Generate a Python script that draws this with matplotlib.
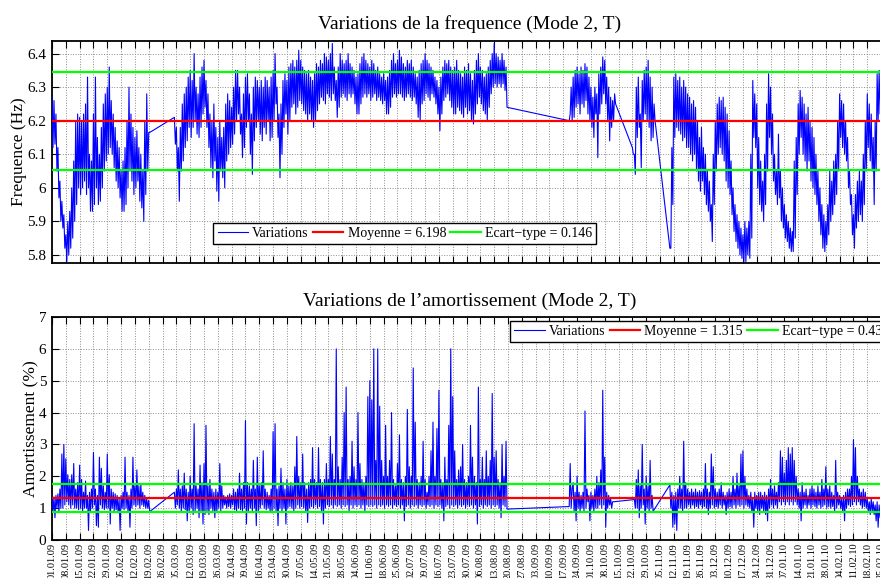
import datetime as dt
import numpy as np
import matplotlib.pyplot as plt
from matplotlib.ticker import FormatStrFormatter

plt.rcParams['font.family'] = ['Liberation Serif', 'DejaVu Serif']

# Each block holds two readings per day (daily high, then daily low),
# days counted from 01.01.2009.  Blocks are separated by recording gaps.

# --- mode 2 frequency (Hz) ---
freq_starts = [0, 62, 262, 294, 313]
freq_a = [6.27, 6.12, 6.26, 6.13, 6.22, 6.05, 6.12, 5.97, 6.02, 5.90,
          5.96, 5.88, 5.92, 5.82, 5.86, 5.78, 5.90, 5.80, 5.93, 5.82,
          6.00, 5.85, 6.08, 5.90, 6.20, 5.95, 6.22, 6.00, 6.21, 5.98,
          6.20, 6.00, 6.22, 6.02, 6.25, 5.98, 6.33, 6.00, 6.10, 5.93,
          6.08, 5.93, 6.22, 5.95, 6.33, 6.00, 6.15, 5.95, 6.10, 5.96,
          6.18, 6.00, 6.25, 6.05, 6.28, 6.08, 6.30, 6.10, 6.36, 6.12,
          6.26, 6.10, 6.22, 6.06, 6.18, 6.02, 6.14, 6.00, 6.12, 5.97,
          6.05, 5.93, 6.08, 5.93, 6.12, 5.95, 6.20, 6.00, 6.30, 6.05,
          6.22, 6.02, 6.18, 5.98, 6.15, 6.00, 6.17, 6.02, 6.12, 5.96,
          6.10, 5.94, 6.05, 5.90, 6.20, 5.98, 6.28, 6.05, 6.165, 6.165]
freq_b = [6.21, 6.13, 6.18, 6.05, 6.12, 5.96, 6.18, 6.05, 6.25, 6.08,
          6.28, 6.12, 6.30, 6.14, 6.33, 6.18, 6.35, 6.15, 6.32, 6.18,
          6.40, 6.20, 6.30, 6.16, 6.28, 6.15, 6.33, 6.18, 6.36, 6.22,
          6.38, 6.24, 6.32, 6.18, 6.28, 6.12, 6.22, 6.06, 6.20, 6.03,
          6.25, 6.08, 6.18, 5.99, 6.15, 5.96, 6.20, 6.05, 6.15, 6.03,
          6.18, 6.00, 6.25, 6.08, 6.28, 6.10, 6.26, 6.12, 6.24, 6.13,
          6.30, 6.16, 6.35, 6.20, 6.35, 6.22, 6.30, 6.16, 6.22, 6.09,
          6.28, 6.12, 6.33, 6.18, 6.34, 6.20, 6.28, 6.10, 6.22, 6.04,
          6.30, 6.14, 6.33, 6.18, 6.32, 6.20, 6.30, 6.16, 6.32, 6.14,
          6.30, 6.18, 6.33, 6.16, 6.32, 6.20, 6.30, 6.14, 6.33, 6.15,
          6.35, 6.20, 6.40, 6.25, 6.30, 6.15, 6.22, 6.03, 6.25, 6.10,
          6.32, 6.18, 6.34, 6.22, 6.32, 6.16, 6.36, 6.20, 6.37, 6.24,
          6.38, 6.25, 6.36, 6.22, 6.38, 6.24, 6.41, 6.26, 6.38, 6.25,
          6.36, 6.23, 6.35, 6.22, 6.34, 6.20, 6.35, 6.22, 6.33, 6.20,
          6.32, 6.18, 6.34, 6.20, 6.37, 6.23, 6.36, 6.25, 6.38, 6.27,
          6.37, 6.26, 6.40, 6.25, 6.39, 6.28, 6.38, 6.27, 6.40, 6.26,
          6.43, 6.28, 6.36, 6.26, 6.32, 6.21, 6.36, 6.24, 6.40, 6.27,
          6.38, 6.28, 6.37, 6.27, 6.38, 6.26, 6.40, 6.28, 6.37, 6.27,
          6.36, 6.28, 6.35, 6.25, 6.33, 6.22, 6.34, 6.22, 6.37, 6.25,
          6.39, 6.27, 6.40, 6.28, 6.38, 6.27, 6.37, 6.28, 6.36, 6.26,
          6.38, 6.27, 6.37, 6.28, 6.35, 6.26, 6.36, 6.27, 6.34, 6.26,
          6.33, 6.25, 6.34, 6.26, 6.32, 6.22, 6.33, 6.22, 6.35, 6.24,
          6.38, 6.27, 6.40, 6.28, 6.37, 6.27, 6.38, 6.28, 6.41, 6.28,
          6.39, 6.27, 6.37, 6.26, 6.36, 6.27, 6.38, 6.28, 6.37, 6.27,
          6.38, 6.26, 6.36, 6.27, 6.34, 6.25, 6.33, 6.21, 6.35, 6.20,
          6.37, 6.25, 6.38, 6.26, 6.40, 6.28, 6.38, 6.27, 6.37, 6.26,
          6.36, 6.28, 6.35, 6.27, 6.33, 6.25, 6.32, 6.22, 6.30, 6.17,
          6.33, 6.22, 6.36, 6.26, 6.38, 6.27, 6.37, 6.28, 6.38, 6.26,
          6.36, 6.24, 6.35, 6.22, 6.36, 6.22, 6.38, 6.24, 6.35, 6.23,
          6.34, 6.22, 6.33, 6.21, 6.36, 6.24, 6.35, 6.22, 6.37, 6.23,
          6.34, 6.20, 6.32, 6.19, 6.35, 6.22, 6.38, 6.25, 6.40, 6.27,
          6.36, 6.25, 6.35, 6.23, 6.33, 6.22, 6.34, 6.20, 6.36, 6.24,
          6.38, 6.28, 6.40, 6.30, 6.43, 6.31, 6.40, 6.30, 6.39, 6.31,
          6.38, 6.30, 6.40, 6.31, 6.38, 6.29, 6.36, 6.24]
freq_c = [6.20, 6.22, 6.30, 6.20, 6.33, 6.21, 6.35, 6.24, 6.36, 6.25,
          6.34, 6.22, 6.36, 6.25, 6.35, 6.24, 6.37, 6.26, 6.36, 6.22,
          6.33, 6.20, 6.30, 6.18, 6.27, 6.15, 6.30, 6.22, 6.28, 6.09,
          6.34, 6.22, 6.36, 6.25, 6.39, 6.28, 6.38, 6.25, 6.33, 6.20,
          6.30, 6.14, 6.27, 6.18, 6.26, 6.20, 6.28, 6.25]
freq_d = [6.12, 6.10, 6.10, 6.04, 6.30, 6.15, 6.33, 6.18, 6.22, 6.06,
          6.32, 6.20, 6.35, 6.22, 6.36, 6.20, 6.38, 6.18, 6.33, 6.14,
          6.30, 6.15, 6.25, 6.20]
freq_e = [5.82, 5.82, 6.12, 5.95, 6.33, 6.15, 6.34, 6.18, 6.32, 6.17,
          6.33, 6.16, 6.30, 6.14, 6.32, 6.15, 6.30, 6.12, 6.28, 6.12,
          6.27, 6.10, 6.25, 6.08, 6.26, 6.10, 6.24, 6.05, 6.20, 6.02,
          6.15, 5.99, 6.18, 6.02, 6.12, 5.98, 6.10, 5.95, 6.05, 5.93,
          6.02, 5.90, 5.95, 5.84, 6.10, 5.95, 6.20, 6.05, 6.25, 6.10,
          6.27, 6.12, 6.26, 6.10, 6.27, 6.08, 6.24, 6.02, 6.22, 6.00,
          6.17, 5.98, 6.08, 5.92, 6.00, 5.87, 5.95, 5.84, 5.92, 5.82,
          5.90, 5.80, 5.88, 5.79, 5.86, 5.78, 5.90, 5.78, 5.88, 5.80,
          5.90, 5.79, 6.10, 5.85, 6.32, 6.15, 6.28, 6.12, 6.25, 6.00,
          6.15, 5.95, 6.08, 5.93, 6.02, 5.90, 6.10, 5.95, 6.25, 6.05,
          6.34, 6.15, 6.30, 6.10, 6.22, 6.02, 6.10, 5.98, 6.05, 5.95,
          6.16, 5.97, 6.05, 5.90, 6.00, 5.88, 5.95, 5.85, 5.92, 5.84,
          5.90, 5.82, 5.88, 5.81, 5.87, 5.81, 6.08, 5.85, 6.15, 5.98,
          6.25, 6.10, 6.29, 6.15, 6.27, 6.10, 6.25, 6.08, 6.22, 6.05,
          6.24, 6.08, 6.20, 6.02, 6.18, 6.00, 6.15, 5.98, 6.10, 5.95,
          6.05, 5.90, 6.00, 5.86, 5.95, 5.82, 5.92, 5.81, 5.90, 5.83,
          5.95, 5.86, 6.05, 5.90, 6.02, 5.92, 6.08, 5.95, 6.10, 5.98,
          6.20, 6.05, 6.28, 6.15, 6.26, 6.12, 6.25, 6.10, 6.20, 6.08,
          6.15, 6.00, 6.05, 5.95, 5.98, 5.86, 5.92, 5.82, 5.98, 5.88,
          6.02, 5.90, 6.05, 5.92, 6.02, 5.90, 6.10, 5.95, 6.20, 6.05,
          6.28, 6.12, 6.25, 6.08, 6.22, 6.05, 6.15, 5.95, 6.20, 6.05,
          6.34, 6.20, 6.35, 6.22, 6.33, 6.25, 6.34, 6.26]
freq_mean, freq_std = 6.198, 0.146

# --- mode 2 damping ratio (%) ---
damp_starts = [0, 62, 262, 295, 313]
damp_a = [1.40, 0.90, 1.35, 0.70, 1.40, 1.00, 1.45, 0.90, 1.60, 1.00,
          2.70, 1.00, 3.00, 1.10, 2.55, 1.20, 2.05, 1.10, 1.90, 1.00,
          2.05, 1.10, 2.40, 1.00, 1.60, 1.00, 1.80, 0.95, 2.35, 1.00,
          1.90, 0.90, 1.50, 1.00, 1.85, 1.00, 1.40, 0.30, 1.50, 0.90,
          1.60, 1.00, 2.75, 1.10, 1.60, 0.45, 1.40, 0.40, 2.60, 1.10,
          2.25, 1.00, 1.70, 0.95, 1.50, 1.00, 2.70, 1.00, 2.05, 0.50,
          1.60, 1.00, 1.50, 0.90, 1.45, 0.95, 1.40, 0.85, 1.30, 0.30,
          1.40, 1.00, 1.50, 0.95, 2.60, 1.00, 1.50, 0.90, 1.40, 0.40,
          1.60, 1.00, 2.60, 1.10, 1.70, 1.05, 2.20, 1.10, 1.70, 1.00,
          1.75, 1.10, 1.50, 1.05, 1.40, 1.00, 1.30, 1.00, 1.25, 0.89]
damp_b = [1.50, 1.00, 1.60, 1.10, 2.20, 1.00, 1.60, 0.90, 1.70, 1.00,
          2.10, 0.95, 1.60, 0.60, 1.50, 0.90, 2.00, 1.00, 1.60, 0.80,
          3.65, 0.90, 1.70, 1.00, 1.60, 0.70, 2.35, 0.90, 1.80, 0.50,
          2.40, 0.80, 3.60, 0.90, 1.70, 0.80, 1.90, 1.00, 1.60, 0.90,
          1.50, 0.70, 1.60, 0.90, 1.50, 1.00, 2.40, 0.90, 1.70, 1.00,
          1.40, 1.10, 1.35, 1.00, 1.40, 1.05, 1.45, 1.00, 1.40, 1.10,
          1.60, 0.95, 1.50, 0.90, 1.60, 1.00, 2.10, 0.95, 1.60, 0.90,
          1.80, 1.00, 3.75, 0.50, 1.80, 0.90, 1.70, 1.00, 1.60, 0.90,
          2.50, 1.00, 1.60, 0.45, 2.60, 0.90, 1.70, 1.00, 1.80, 1.10,
          2.80, 1.00, 1.60, 0.95, 1.50, 1.00, 1.40, 0.90, 1.60, 0.85,
          3.40, 1.00, 3.65, 0.90, 1.60, 0.45, 1.70, 1.00, 2.25, 0.90,
          1.80, 1.00, 1.60, 0.50, 1.90, 1.00, 1.70, 1.05, 1.80, 1.00,
          1.70, 0.90, 2.30, 1.00, 3.25, 1.10, 2.00, 1.00, 1.80, 1.05,
          2.70, 1.00, 1.80, 0.90, 1.60, 0.55, 1.80, 1.00, 1.90, 1.05,
          2.90, 1.00, 1.90, 1.10, 1.80, 1.00, 2.90, 1.05, 1.90, 0.90,
          1.80, 0.50, 1.90, 1.00, 2.40, 1.10, 1.90, 1.05, 3.25, 1.10,
          2.70, 1.00, 1.90, 1.10, 6.00, 1.05, 2.30, 1.10, 1.90, 1.00,
          2.60, 1.10, 4.00, 1.05, 4.80, 1.10, 1.90, 0.90, 2.00, 1.10,
          3.10, 1.00, 2.30, 1.10, 1.90, 1.05, 4.00, 1.10, 2.40, 1.00,
          1.90, 1.10, 1.80, 0.90, 2.00, 1.10, 4.50, 1.05, 5.00, 1.10,
          4.40, 1.05, 6.00, 1.10, 2.50, 1.00, 6.00, 1.10, 4.20, 1.05,
          2.50, 1.10, 2.00, 1.00, 3.60, 1.10, 2.00, 1.05, 2.50, 1.10,
          4.00, 1.00, 1.90, 1.10, 1.70, 1.05, 2.40, 1.10, 3.30, 1.00,
          1.90, 1.10, 1.80, 0.60, 2.00, 1.05, 4.10, 1.10, 2.30, 1.00,
          2.00, 1.10, 5.40, 1.05, 3.70, 1.10, 1.90, 1.00, 1.80, 1.10,
          2.00, 1.05, 3.10, 1.10, 1.90, 1.00, 1.50, 1.10, 2.00, 1.05,
          2.80, 1.10, 3.70, 1.00, 2.00, 1.10, 3.50, 1.05, 4.70, 1.10,
          1.90, 1.00, 1.80, 0.60, 2.60, 1.05, 1.90, 1.10, 3.60, 1.00,
          6.00, 1.10, 4.50, 1.05, 2.80, 1.10, 1.90, 1.00, 2.20, 1.10,
          2.30, 1.05, 3.00, 1.10, 1.90, 1.00, 1.80, 1.10, 2.00, 1.05,
          3.60, 1.10, 2.60, 1.00, 2.00, 1.10, 1.80, 0.50, 4.80, 1.05,
          1.90, 1.10, 2.60, 1.00, 1.90, 1.10, 2.80, 1.05, 2.00, 1.10,
          2.50, 1.00, 4.60, 1.10, 2.60, 1.05, 2.80, 1.10, 1.90, 1.00,
          1.80, 0.70, 3.00, 1.10, 2.00, 1.05, 3.10, 0.97]
damp_c = [1.05, 2.40, 1.00, 1.60, 1.80, 0.90, 1.50, 0.60, 2.00, 1.00,
          1.50, 0.90, 1.40, 1.00, 1.50, 0.90, 4.05, 1.00, 1.60, 1.20,
          1.40, 0.60, 1.50, 1.00, 1.40, 0.90, 1.60, 1.00, 2.00, 1.00,
          1.80, 1.10, 2.20, 1.00, 4.70, 1.10, 2.60, 0.40, 1.50, 1.00,
          1.40, 1.10, 1.30, 1.00, 1.20, 1.20]
damp_d = [1.27, 1.00, 1.90, 1.00, 2.20, 0.70, 1.70, 1.00, 3.00, 1.10,
          1.60, 0.50, 2.00, 1.00, 1.70, 0.90, 2.50, 1.00, 1.40, 0.90]
damp_e = [1.73, 1.00, 1.50, 0.40, 1.40, 0.50, 1.50, 0.30, 1.60, 1.00,
          2.00, 1.00, 1.60, 0.90, 3.10, 1.00, 1.80, 1.00, 1.60, 1.10,
          1.50, 1.00, 1.60, 1.10, 1.50, 1.00, 1.60, 1.05, 1.50, 1.00,
          1.55, 1.10, 1.50, 1.00, 1.60, 1.05, 2.40, 1.00, 1.60, 0.80,
          1.50, 1.00, 2.70, 1.10, 2.30, 1.00, 1.60, 1.05, 1.50, 1.00,
          1.60, 1.10, 1.80, 1.00, 1.50, 1.10, 1.40, 0.80, 1.50, 1.00,
          1.60, 1.05, 1.50, 1.00, 2.00, 1.10, 1.60, 1.00, 2.10, 1.10,
          1.70, 1.05, 2.70, 1.10, 2.80, 1.00, 2.00, 1.10, 1.60, 1.05,
          1.40, 1.00, 1.50, 0.90, 1.30, 0.40, 1.50, 1.00, 1.40, 0.90,
          1.50, 0.80, 1.50, 1.00, 1.40, 0.90, 1.50, 0.80, 1.40, 0.60,
          1.60, 1.00, 1.90, 1.10, 1.60, 1.00, 1.70, 1.10, 1.50, 1.00,
          1.80, 1.20, 2.80, 1.10, 2.60, 1.20, 2.10, 1.10, 2.50, 1.20,
          2.90, 1.10, 2.70, 1.20, 2.90, 1.10, 2.50, 1.20, 2.00, 1.10,
          1.60, 1.00, 1.50, 0.60, 1.80, 1.00, 1.50, 1.10, 1.60, 1.00,
          1.40, 1.10, 1.60, 1.00, 1.70, 1.10, 1.60, 1.05, 1.50, 1.00,
          1.70, 1.10, 1.50, 1.00, 1.90, 1.05, 1.60, 1.10, 2.30, 1.00,
          1.60, 1.05, 1.70, 1.00, 1.50, 1.05, 1.40, 0.90, 2.50, 1.00,
          1.50, 1.10, 1.40, 1.00, 1.30, 0.90, 1.40, 0.60, 1.50, 1.00,
          1.60, 1.10, 1.60, 1.05, 2.00, 1.10, 3.15, 1.20, 2.90, 1.10,
          2.00, 1.20, 1.60, 1.10, 1.50, 1.00, 1.60, 1.05, 1.50, 1.00,
          1.30, 0.90, 1.20, 0.80, 1.30, 0.90, 1.20, 0.80, 1.10, 0.60,
          1.20, 0.40, 1.10, 0.70, 1.20, 0.80, 1.10, 0.90]
damp_mean, damp_std = 1.315, 0.436

T0 = dt.date(2009, 1, 1)
X_END = 423.5
week_days = np.arange(0, 424, 7)
week_labels = [(T0 + dt.timedelta(days=int(d))).strftime('%d.%m.%y') for d in week_days]


def stitch(starts, blocks):
    # two samples per day -> half-day spacing inside each block
    days = np.concatenate([s + 0.5 * np.arange(len(b)) for s, b in zip(starts, blocks)])
    return days, np.concatenate(blocks)


def decorate(ax, ylim, yticks):
    ax.set_xlim(0, X_END)
    ax.set_ylim(*ylim)
    ax.set_xticks(week_days)
    ax.set_yticks(yticks)
    ax.yaxis.set_major_formatter(FormatStrFormatter('%g'))
    ax.grid(True, linestyle=':', color='0.55', linewidth=0.7)
    ax.tick_params(direction='in', top=True, right=True, length=5,
                   width=0.8, labelsize=11, pad=4)
    for sp in ax.spines.values():
        sp.set_linewidth(1.3)


def draw_series(ax, days, vals, mean, std, leg_anchor, leg_loc):
    h1, = ax.plot(days, vals, color='#0000ff', lw=0.8, zorder=3)
    h2 = ax.axhline(mean, color='#ff0000', lw=1.6, zorder=4)
    h3 = ax.axhline(mean + std, color='#00ff00', lw=1.6, zorder=4)
    ax.axhline(mean - std, color='#00ff00', lw=1.6, zorder=4)
    leg = ax.legend([h1, h2, h3],
                    ['Variations', f'Moyenne = {mean:.3f}',
                     f'Ecart\u2212type = {std:.3f}'],
                    ncol=3, loc=leg_loc, bbox_to_anchor=leg_anchor,
                    frameon=True, fancybox=False, framealpha=1,
                    edgecolor='black', fontsize=10, handlelength=2.2,
                    handletextpad=0.3, columnspacing=0.3, borderpad=0.3,
                    borderaxespad=0)
    leg.get_frame().set_linewidth(1.0)
    leg.set_zorder(6)


fig = plt.figure(figsize=(8.8, 5.78), dpi=100)
ax1 = fig.add_axes([52 / 880, 1 - 263 / 578, (888 - 52) / 880, 222 / 578])
ax2 = fig.add_axes([52 / 880, 1 - 540 / 578, (888 - 52) / 880, 223 / 578])

d1, v1 = stitch(freq_starts, [freq_a, freq_b, freq_c, freq_d, freq_e])
draw_series(ax1, d1, v1, freq_mean, freq_std, (0.193, 0.086), 'lower left')
decorate(ax1, (5.776, 6.4375), [5.8, 5.9, 6.0, 6.1, 6.2, 6.3, 6.4])
ax1.tick_params(labelbottom=False)
ax1.set_ylabel('Frequence (Hz)', fontsize=12.5)
ax1.yaxis.set_label_coords(-0.03, 0.5)
ax1.set_title('Variations de la frequence (Mode 2, T)', fontsize=14, pad=9)

d2, v2 = stitch(damp_starts, [damp_a, damp_b, damp_c, damp_d, damp_e])
draw_series(ax2, d2, v2, damp_mean, damp_std, (0.548, 0.982), 'upper left')
decorate(ax2, (0, 7), range(0, 8))
ax2.set_xticklabels(week_labels, rotation=90, fontsize=7.5)
ax2.tick_params(axis='x', pad=2)
ax2.set_ylabel('Amortissement (%)', fontsize=12.5)
ax2.yaxis.set_label_coords(-0.0155, 0.5)
ax2.set_title('Variations de l\u2019amortissement (Mode 2, T)', fontsize=14, pad=8)

fig.savefig('out.png', dpi=100, facecolor='white')
